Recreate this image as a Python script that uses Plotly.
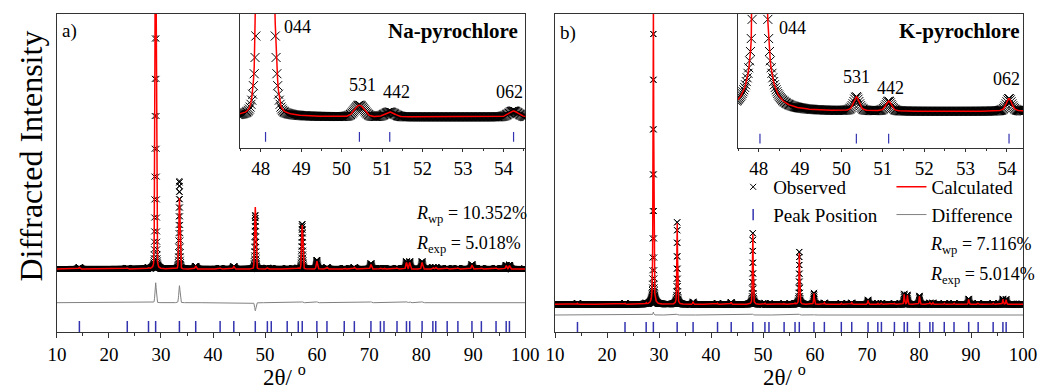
import numpy as np
import plotly.graph_objects as go

W, H = 1054, 385
FONT = "Liberation Serif"

# ---------------- data ----------------
tt_min, tt_max, tt_step = 10.0, 100.0, 0.02

# a) Na-pyrochlore : Bragg peak positions (2theta, deg)
pos_a = [14.32, 23.52, 27.60, 28.97, 33.54, 36.67, 41.36, 43.99, 48.12, 50.44,
         51.19, 54.25, 56.38, 57.14, 59.95, 61.89, 65.21, 67.15, 70.34, 72.16,
         72.85, 75.35, 77.17, 77.79, 80.17, 82.24, 82.80, 84.99, 87.05, 89.75,
         91.56, 94.38, 96.33, 96.95]
obs_a = [1.5, 1.0, 1.0, 420, 88, 3.0, 1.0, 2.5, 54, 1.1,
         0.45, 0.55, 1.0, 45, 9.0, 1.5, 1.0, 1.5, 5.5, 1.0,
         1.0, 1.0, 7.5, 7.5, 7.5, 1.5, 1.5, 1.0, 1.0, 4.5,
         1.0, 1.0, 4.0, 4.0]
calc_a = [1.5, 1.0, 1.0, 400, 71, 3.0, 1.0, 2.5, 62, 1.1,
          0.45, 0.55, 1.0, 44, 8.0, 1.5, 1.0, 1.5, 4.5, 1.0,
          1.0, 1.0, 6.5, 6.5, 6.5, 1.5, 1.5, 1.0, 1.0, 4.0,
          1.0, 1.0, 3.5, 3.5]
bg_a = 63.0
fwhm_a, eta_a = 0.28, 0.10
rwp_a, rexp_a = "10.352%", "5.018%"

# b) K-pyrochlore
pos_b = [14.32, 23.46, 27.53, 28.91, 33.49, 36.55, 41.25, 43.88, 48.03, 50.36,
         51.14, 54.05, 56.15, 56.97, 59.79, 61.79, 65.05, 67.05, 70.19, 72.07,
         72.76, 75.26, 77.14, 77.76, 80.08, 82.08, 82.65, 84.84, 86.72, 89.54,
         91.36, 94.24, 96.12, 96.74]
obs_b = [1.0, 1.0, 1.0, 303, 83, 2.5, 1.0, 2.0, 72, 0.95,
         0.67, 0.85, 1.0, 53, 11.5, 1.5, 1.0, 1.5, 4.5, 1.0,
         1.0, 1.0, 10.5, 9.5, 8.5, 1.5, 1.5, 1.0, 1.0, 5.5,
         1.0, 1.0, 5.5, 5.0]
calc_b = [1.0, 1.0, 1.0, 300, 82, 2.5, 1.0, 2.0, 71, 0.95,
          0.67, 0.85, 1.0, 52, 11.0, 1.5, 1.0, 1.5, 4.0, 1.0,
          1.0, 1.0, 10.0, 9.0, 8.0, 1.5, 1.5, 1.0, 1.0, 5.0,
          1.0, 1.0, 5.0, 4.5]
bg_b = 27.7
fwhm_b, eta_b = 0.16, 0.50
rwp_b, rexp_b = "7.116%", "5.014%"

inset_labels = ["044", "531", "442", "062"]

# ---------------- profile ----------------
tt = np.arange(tt_min, tt_max + tt_step / 2, tt_step)


def profile(x, pos, hts, fwhm, eta, bg):
    y = np.full_like(x, bg)
    g = fwhm / 2.0
    for p, h in zip(pos, hts):
        d = (x - p) / g
        y += h * (eta / (1 + d * d) + (1 - eta) * np.exp(-np.log(2) * d * d))
    return y


Yo_a = profile(tt, pos_a, obs_a, fwhm_a, eta_a, bg_a)
Yc_a = profile(tt, pos_a, calc_a, fwhm_a, eta_a, bg_a)
Yo_b = profile(tt, pos_b, obs_b, fwhm_b, eta_b, bg_b)
Yc_b = profile(tt, pos_b, calc_b, fwhm_b, eta_b, bg_b)

# layout constants (vertical offsets of difference curve and tick row)
diff_off_a, tick_y_a = 29.3, 5.3
diff_off_b, tick_y_b = 17.0, 4.5
inset_a = dict(xr=[47.48, 54.54], yr=[60.05, 72.81], tick=61.1)
inset_b = dict(xr=[47.50, 54.39], yr=[25.28, 34.21], tick=25.9)

RED = "#ff0000"
GRAY = "#808080"
BLUE = "#3333b0"

fig = go.Figure()


def add_panel(xa, ya, xi, yi, Yo, Yc, pos, diff_off, tick_y, inset, legend):
    # main
    fig.add_trace(go.Scatter(x=tt, y=Yo, mode="markers", name="Observed",
                             marker=dict(symbol="x-thin", size=6, color="black",
                                         line=dict(width=1, color="black")),
                             xaxis=xa, yaxis=ya, showlegend=legend, legend="legend"))
    fig.add_trace(go.Scatter(x=tt, y=Yc, mode="lines", name="Calculated",
                             line=dict(color=RED, width=1.5),
                             xaxis=xa, yaxis=ya, showlegend=legend, legend="legend2"))
    fig.add_trace(go.Scatter(x=pos, y=[tick_y] * len(pos), mode="markers", name="Peak Position",
                             marker=dict(symbol="line-ns", size=8, color=BLUE,
                                         line=dict(width=1.5, color=BLUE)),
                             xaxis=xa, yaxis=ya, showlegend=legend, legend="legend"))
    fig.add_trace(go.Scatter(x=tt, y=Yo - Yc + diff_off, mode="lines", name="Difference",
                             line=dict(color=GRAY, width=1),
                             xaxis=xa, yaxis=ya, showlegend=legend, legend="legend2"))
    # inset
    m = (tt >= inset["xr"][0] - 0.05) & (tt <= inset["xr"][1] + 0.05)
    fig.add_trace(go.Scatter(x=tt[m], y=Yo[m], mode="markers",
                             marker=dict(symbol="x-thin", size=9, color="black",
                                         line=dict(width=1, color="black")),
                             xaxis=xi, yaxis=yi, showlegend=False))
    fig.add_trace(go.Scatter(x=tt[m], y=Yc[m], mode="lines",
                             line=dict(color=RED, width=1.5),
                             xaxis=xi, yaxis=yi, showlegend=False))
    pin = [p for p in pos if inset["xr"][0] <= p <= inset["xr"][1]]
    fig.add_trace(go.Scatter(x=pin, y=[inset["tick"]] * len(pin), mode="markers",
                             marker=dict(symbol="line-ns", size=7, color=BLUE,
                                         line=dict(width=1.2, color=BLUE)),
                             xaxis=xi, yaxis=yi, showlegend=False))


add_panel("x", "y", "x3", "y3", Yo_a, Yc_a, pos_a, diff_off_a, tick_y_a, inset_a, False)
add_panel("x2", "y2", "x4", "y4", Yo_b, Yc_b, pos_b, diff_off_b, tick_y_b, inset_b, True)

LINE = "#333333"
tickfont = dict(family=FONT, size=19, color="black")


def px(x):
    return x / W


def py(y):
    return 1 - y / H


main_x = dict(range=[10, 100], showline=True, linecolor=LINE, linewidth=1, mirror=True,
              ticks="outside", ticklen=5, tickcolor=LINE, dtick=10, tick0=0,
              minor=dict(dtick=5, ticks="outside", ticklen=3, tickcolor=LINE),
              tickfont=tickfont, showgrid=False, zeroline=False)
main_y = dict(range=[0, 318], showline=True, linecolor=LINE, linewidth=1, mirror=True,
              showticklabels=False, ticks="", showgrid=False, zeroline=False,
              domain=[py(332), py(14)])
ins_x = dict(showline=True, linecolor=LINE, linewidth=1, mirror=False,
             ticks="outside", ticklen=3, tickcolor=LINE, dtick=1, tick0=0,
             minor=dict(dtick=0.5, ticks="outside", ticklen=2, tickcolor=LINE),
             tickfont=tickfont,
             showgrid=False, zeroline=False)
ins_y = dict(showline=True, linecolor=LINE, linewidth=1, showticklabels=False, ticks="",
             showgrid=False, zeroline=False, domain=[py(148), py(14)])

fig.update_layout(
    width=W, height=H, margin=dict(l=0, r=0, t=0, b=0),
    paper_bgcolor="white", plot_bgcolor="rgba(0,0,0,0)",
    font=dict(family=FONT, color="black"),
    xaxis=dict(main_x, domain=[px(48), px(527.3)], anchor="y"),
    yaxis=dict(main_y, anchor="x"),
    xaxis2=dict(main_x, domain=[px(557.7), px(1036.7)], anchor="y2"),
    yaxis2=dict(main_y, anchor="x2"),
    xaxis3=dict(ins_x, range=inset_a["xr"], domain=[px(235), px(527.3)], anchor="y3"),
    yaxis3=dict(ins_y, range=inset_a["yr"], anchor="x3"),
    xaxis4=dict(ins_x, range=inset_b["xr"], domain=[px(745), px(1036.7)], anchor="y4"),
    yaxis4=dict(ins_y, range=inset_b["yr"], anchor="x4"),
    legend=dict(x=px(740), y=py(168), xanchor="left", yanchor="top",
                font=dict(family=FONT, size=19, color="black"),
                bgcolor="rgba(0,0,0,0)", tracegroupgap=0, borderwidth=0),
    legend2=dict(x=px(902), y=py(168), xanchor="left", yanchor="top",
                 font=dict(family=FONT, size=19, color="black"),
                 bgcolor="rgba(0,0,0,0)", tracegroupgap=0, borderwidth=0),
)


def ann(text, x, y, size, xanchor="left", **kw):
    fig.add_annotation(text=text, x=px(x), y=py(y), xref="paper", yref="paper",
                       xanchor=xanchor, yanchor="middle", showarrow=False,
                       font=dict(family=FONT, size=size, color="black"), **kw)


ann("a)", 51, 31, 19)
ann("b)", 561, 33, 19)
ann("<b>Na-pyrochlore</b>", 522, 31, 21, xanchor="right")
ann("<b>K-pyrochlore</b>", 1036, 31, 21, xanchor="right")
# hkl labels
for t, x, y in zip(inset_labels, [278, 345, 380, 495], [27, 85, 92, 92]):
    ann(t, x, y, 18)
for t, x, y in zip(inset_labels, [785, 850, 885, 1004], [28, 77, 88, 79]):
    ann(t, x, y, 18)
# R factors
ann("<i>R</i><sub>wp</sub> = " + rwp_a, 413, 214, 18)
ann("<i>R</i><sub>exp</sub> = " + rexp_a, 413, 244, 18)
ann("<i>R</i><sub>wp</sub> = " + rwp_b, 939, 245, 18)
ann("<i>R</i><sub>exp</sub> = " + rexp_b, 939, 275, 18)
# axis titles
ann("2θ/ <sup>o</sup>", 281, 375, 23, xanchor="center")
ann("2θ/ <sup>o</sup>", 793, 375, 23, xanchor="center")
ann("Diffracted Intensity", 22, 156, 32, xanchor="center", textangle=-90)

fig.write_html("out.html")
